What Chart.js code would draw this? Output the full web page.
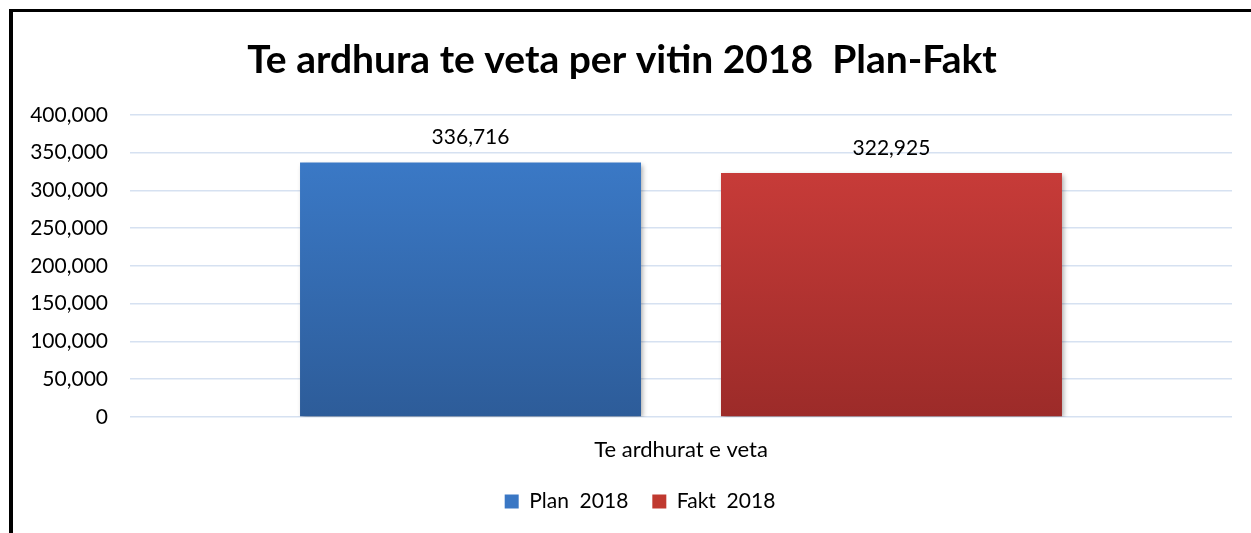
<!DOCTYPE html>
<html><head><meta charset="utf-8">
<script src="https://cdn.jsdelivr.net/npm/chart.js@4.4.1/dist/chart.umd.min.js"></script>
<style>
html,body{margin:0;padding:0;background:#fff;}
#wrap{position:absolute;left:0;top:0;width:1251px;height:533px;}
#frame{position:absolute;left:9px;top:9px;width:1250px;height:540px;border-left:4px solid #000;border-top:3px solid #000;box-sizing:border-box;pointer-events:none;}
canvas{position:absolute;left:0;top:0;}
</style></head>
<body>
<div id="wrap"><canvas id="c" width="1251" height="533"></canvas><div id="frame"></div></div>
<script>
const titleText = 'Te ardhura te veta per vitin 2018  Plan-Fakt';
const categories = ['Te ardhurat e veta'];
const seriesNames = ['Plan  2018', 'Fakt  2018'];
const planValues = [336716];
const faktValues = [322925];
const yTicks = [0, 50000, 100000, 150000, 200000, 250000, 300000, 350000, 400000];

const FONT = 'Lato, "Open Sans", sans-serif';
function grad(ctx, area, top, bottom){
  const g = ctx.createLinearGradient(0, area.top, 0, area.bottom);
  g.addColorStop(0, top); g.addColorStop(1, bottom); return g;
}
const fmt = v => v.toLocaleString('en-US');

const labelsPlugin = {
  id: 'valLabels',
  afterDatasetsDraw(chart){
    const ctx = chart.ctx;
    ctx.save();
    ctx.font = '21px ' + FONT;
    ctx.fillStyle = '#000';
    ctx.textAlign = 'center';
    ctx.textBaseline = 'middle';
    chart.data.datasets.forEach((ds, i) => {
      chart.getDatasetMeta(i).data.forEach((el, j) => {
        ctx.fillText(fmt(ds.data[j]), el.x, el.y - 25);
      });
    });
    ctx.restore();
  }
};
const shadowPlugin = {
  id: 'barShadow',
  beforeDatasetDraw(chart){
    const ctx = chart.ctx; ctx.save();
    ctx.shadowColor = 'rgba(0,0,0,0.35)'; ctx.shadowBlur = 5; ctx.shadowOffsetX = 2; ctx.shadowOffsetY = 2;
  },
  afterDatasetDraw(chart){ chart.ctx.restore(); }
};
const legendShift = {
  id: 'legendShift',
  afterLayout(chart){
    if (chart.legend) { chart.legend.left += 18; chart.legend.right += 18; }
  }
};

new Chart(document.getElementById('c'), {
  type: 'bar',
  data: {
    labels: categories,
    datasets: [
      { label: seriesNames[0], data: planValues,
        backgroundColor: c => { const a = c.chart.chartArea; return a ? grad(c.chart.ctx, a, '#3D7ECE', '#2D5C99') : '#3A77C4'; } },
      { label: seriesNames[1], data: faktValues,
        backgroundColor: c => { const a = c.chart.chartArea; return a ? grad(c.chart.ctx, a, '#D13F3C', '#9C2B29') : '#C0392F'; } }
    ]
  },
  options: {
    responsive: false,
    animation: false,
    devicePixelRatio: 1,
    categoryPercentage: 0.764,
    barPercentage: 0.81,
    layout: { padding: { left: 12, right: 19, top: 0, bottom: 11 } },
    scales: {
      x: {
        afterFit(s){ s.height = 50; },
        grid: { display: false },
        border: { display: false },
        ticks: { color: '#000', font: { family: FONT, size: 22 }, padding: 12 }
      },
      y: {
        min: 0, max: 400000,
        afterFit(s){ s.width = 118; },
        afterBuildTicks(s){ s.ticks = yTicks.map(v => ({ value: v })); },
        grid: { color: '#D6E1F1', lineWidth: 1.6, drawTicks: false },
        border: { display: false },
        ticks: { color: '#000', font: { family: FONT, size: 21 }, padding: 22, callback: v => fmt(v) }
      }
    },
    plugins: {
      title: { display: true, text: titleText, color: '#000', font: { family: FONT, size: 39, weight: 'bold' }, padding: { top: 37, bottom: 31 } },
      legend: {
        position: 'bottom',
        labels: { color: '#000', font: { family: FONT, size: 21 }, boxWidth: 14, boxHeight: 14, padding: 24,
          generateLabels(chart){
            const cols = ['#3A77C4', '#C0392F'];
            return chart.data.datasets.map((d, i) => ({ text: d.label, fillStyle: cols[i], strokeStyle: cols[i], lineWidth: 0, datasetIndex: i, fontColor: '#000' }));
          } }
      },
      tooltip: { enabled: false }
    }
  },
  plugins: [shadowPlugin, labelsPlugin, legendShift]
});
</script>
</body></html>
